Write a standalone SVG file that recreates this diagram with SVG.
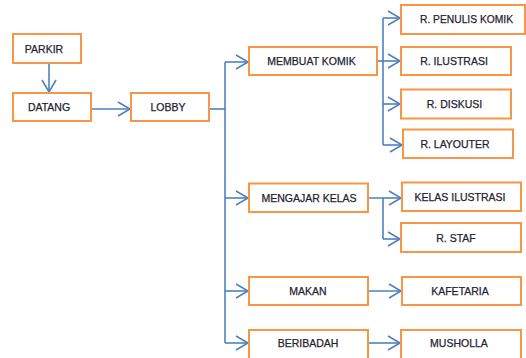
<svg xmlns="http://www.w3.org/2000/svg" width="526" height="358" viewBox="0 0 526 358">
  <style>
    .box { fill: #ffffff; stroke: #f79646; stroke-width: 2; }
    .lbl { font-family: "Liberation Sans", Arial, sans-serif; font-size: 10.5px; fill: #1f2330; stroke: #1f2330; stroke-width: 0.25; text-anchor: middle; }
    .link { fill: none; stroke: #4f81bd; stroke-width: 1.6; }
  </style>
  <defs>
    <marker id="arrow" markerUnits="userSpaceOnUse" markerWidth="16" markerHeight="18" viewBox="-14 -9 16 18" refX="0" refY="0" orient="auto">
      <path d="M-12,-7 L0,0 L-12,7" fill="none" stroke="#4f81bd" stroke-width="1.6"/>
    </marker>
  </defs>
  <rect width="526" height="358" fill="#ffffff"/>

  <g id="connectors">
    <path class="link" d="M49,63 V92" marker-end="url(#arrow)"/>
    <path class="link" d="M91,109 H130" marker-end="url(#arrow)"/>
    <path class="link" d="M209,109 H225"/>
    <path class="link" d="M225,62 V343"/>
    <path class="link" d="M225,62 H248" marker-end="url(#arrow)"/>
    <path class="link" d="M225,198 H248" marker-end="url(#arrow)"/>
    <path class="link" d="M225,291 H248" marker-end="url(#arrow)"/>
    <path class="link" d="M225,343 H248" marker-end="url(#arrow)"/>
    <path class="link" d="M377,61 H383"/>
    <path class="link" d="M383,18 V145"/>
    <path class="link" d="M383,18 H400" marker-end="url(#arrow)"/>
    <path class="link" d="M383,61 H400" marker-end="url(#arrow)"/>
    <path class="link" d="M383,104 H400" marker-end="url(#arrow)"/>
    <path class="link" d="M383,145 H402" marker-end="url(#arrow)"/>
    <path class="link" d="M368,198 H383 V239"/>
    <path class="link" d="M383,198 H401" marker-end="url(#arrow)"/>
    <path class="link" d="M383,239 H400" marker-end="url(#arrow)"/>
    <path class="link" d="M368,291 H401" marker-end="url(#arrow)"/>
    <path class="link" d="M368,343 H400" marker-end="url(#arrow)"/>
  </g>

  <g id="parkir"><rect class="box" x="13" y="34" width="68" height="29"/><text class="lbl" x="44" y="52.5">PARKIR</text></g>
  <g id="datang"><rect class="box" x="13" y="93" width="78" height="28"/><text class="lbl" x="49" y="111">DATANG</text></g>
  <g id="lobby"><rect class="box" x="131" y="93" width="78" height="28"/><text class="lbl" x="168" y="111">LOBBY</text></g>
  <g id="membuat-komik"><rect class="box" x="249" y="47" width="128" height="28"/><text class="lbl" x="311.5" y="65">MEMBUAT KOMIK</text></g>
  <g id="r-penulis-komik"><rect class="box" x="401" y="5" width="124" height="29"/><text class="lbl" x="466.5" y="23" textLength="93" lengthAdjust="spacingAndGlyphs">R. PENULIS KOMIK</text></g>
  <g id="r-ilustrasi"><rect class="box" x="401" y="47" width="110" height="28"/><text class="lbl" x="454" y="65">R. ILUSTRASI</text></g>
  <g id="r-diskusi"><rect class="box" x="401" y="89.5" width="110" height="29"/><text class="lbl" x="454.5" y="108">R. DISKUSI</text></g>
  <g id="r-layouter"><rect class="box" x="403" y="129.5" width="110" height="28.5"/><text class="lbl" x="455" y="148">R. LAYOUTER</text></g>
  <g id="mengajar-kelas"><rect class="box" x="249" y="183.5" width="119" height="28.5"/><text class="lbl" x="309" y="202">MENGAJAR KELAS</text></g>
  <g id="kelas-ilustrasi"><rect class="box" x="402" y="182.5" width="119" height="28.5"/><text class="lbl" x="460" y="201">KELAS ILUSTRASI</text></g>
  <g id="r-staf"><rect class="box" x="401" y="223" width="120" height="29"/><text class="lbl" x="456" y="241.5">R. STAF</text></g>
  <g id="makan"><rect class="box" x="249" y="277" width="119" height="28"/><text class="lbl" x="308" y="295">MAKAN</text></g>
  <g id="kafetaria"><rect class="box" x="402" y="277" width="119" height="28"/><text class="lbl" x="460" y="295">KAFETARIA</text></g>
  <g id="beribadah"><rect class="box" x="249" y="330" width="119" height="32"/><text class="lbl" x="308" y="347">BERIBADAH</text></g>
  <g id="musholla"><rect class="box" x="401" y="330" width="120" height="32"/><text class="lbl" x="459" y="347">MUSHOLLA</text></g>
</svg>
